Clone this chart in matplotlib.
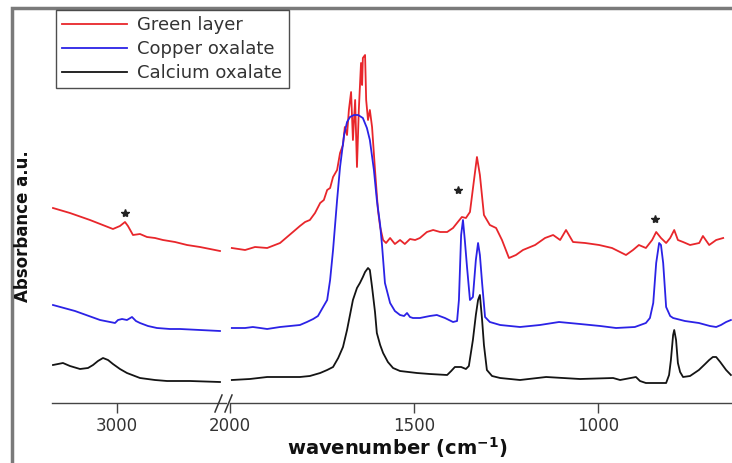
import matplotlib.pyplot as plt
from matplotlib.lines import Line2D
from matplotlib.patches import Rectangle

# wavenumber (cm-1) / absorbance (a.u., offset traces)
green_wn_hi = [3581, 3426, 3243, 3033, 2969, 2923, 2896, 2850, 2786, 2722, 2649, 2576, 2466, 2356, 2238, 2146, 2055]
green_ab_hi = [195, 190, 183, 174, 177, 181, 177, 168, 169, 166, 165, 163, 161, 158, 156, 154, 152]
green_wn_lo = [1995, 1959, 1932, 1899, 1864, 1829, 1810, 1796, 1783, 1769, 1755, 1745, 1736, 1728, 1720, 1709,
               1701, 1693, 1688, 1682, 1677, 1671, 1666, 1660, 1655, 1650, 1644, 1641, 1639, 1633, 1630, 1625,
               1620, 1614, 1606, 1598, 1592, 1584, 1576, 1565, 1552, 1538, 1525, 1511, 1497, 1484, 1465, 1448,
               1429, 1410, 1394, 1381, 1370, 1359, 1348, 1337, 1329, 1321, 1310, 1294, 1277, 1261, 1242, 1223,
               1204, 1171, 1144, 1122, 1103, 1087, 1068, 1035, 997, 962, 924, 905, 889, 870, 853, 842, 829, 815,
               804, 793, 783, 769, 750, 725, 715, 698, 679, 660]
green_ab_lo = [155, 153, 156, 155, 160, 171, 177, 181, 183, 190, 200, 203, 213, 215, 226, 233,
               250, 258, 276, 268, 293, 311, 263, 303, 236, 293, 340, 318, 345, 348, 303, 283,
               293, 276, 233, 193, 176, 163, 160, 165, 159, 163, 159, 164, 163, 165, 171, 173,
               171, 171, 175, 181, 186, 185, 191, 223, 246, 228, 188, 178, 175, 163, 145, 148,
               153, 158, 165, 168, 163, 173, 161, 160, 158, 155, 148, 153, 158, 155, 163, 171, 165, 160,
               165, 173, 163, 161, 158, 160, 167, 158, 163, 165]

copper_wn_hi = [3581, 3380, 3151, 3014, 2987, 2950, 2905, 2859, 2823, 2786, 2713, 2631, 2512, 2420, 2238, 2055]
copper_ab_hi = [98, 92, 83, 80, 83, 84, 83, 86, 82, 80, 77, 75, 74, 74, 73, 72]
copper_wn_lo = [1995, 1959, 1938, 1918, 1899, 1864, 1810, 1791, 1774, 1761, 1747, 1736, 1728, 1720, 1709, 1701,
                1690, 1682, 1674, 1663, 1652, 1639, 1628, 1620, 1609, 1601, 1592, 1587, 1579, 1565, 1552, 1538,
                1527, 1519, 1511, 1503, 1484, 1457, 1438, 1416, 1394, 1383, 1378, 1372, 1367, 1362, 1356, 1348,
                1340, 1332, 1326, 1321, 1315, 1307, 1294, 1266, 1212, 1158, 1106, 1049, 994, 951, 900, 870, 859,
                850, 842, 834, 829, 823, 815, 804, 796, 764, 726, 696, 679, 666, 652, 639]
copper_ab_lo = [75, 75, 76, 75, 74, 76, 78, 81, 84, 87, 96, 103, 123, 153, 203, 236,
                268, 281, 286, 288, 288, 285, 275, 263, 233, 203, 178, 158, 120, 100, 92, 88,
                87, 90, 86, 85, 85, 87, 88, 85, 81, 82, 103, 168, 183, 163, 136, 103,
                106, 143, 160, 148, 120, 86, 81, 78, 76, 78, 81, 79, 77, 75, 76, 80, 85,
                100, 140, 160, 158, 140, 96, 87, 85, 82, 80, 77, 76, 78, 81, 83]

calcium_wn_hi = [3581, 3535, 3490, 3426, 3334, 3261, 3215, 3170, 3124, 3078, 3033, 2969, 2905, 2786, 2649, 2539, 2329, 2055]
calcium_ab_hi = [38, 39, 40, 37, 34, 35, 38, 42, 45, 43, 39, 34, 30, 25, 23, 22, 22, 21]
calcium_wn_lo = [1995, 1946, 1899, 1851, 1810, 1783, 1755, 1736, 1720, 1706, 1693, 1682, 1674, 1666, 1655, 1647,
                 1639, 1633, 1625, 1620, 1614, 1606, 1601, 1592, 1584, 1571, 1557, 1538, 1492, 1457, 1410, 1399,
                 1389, 1372, 1359, 1351, 1340, 1332, 1326, 1321, 1315, 1310, 1302, 1288, 1266, 1212, 1141, 1049,
                 959, 940, 897, 886, 870, 832, 815, 807, 802, 796, 793, 788, 783, 777, 769, 750, 726, 709, 698,
                 688, 679, 668, 652, 639]
calcium_ab_lo = [23, 24, 26, 26, 26, 27, 30, 33, 36, 45, 56, 73, 88, 103, 115, 120,
                 126, 131, 135, 133, 116, 91, 70, 58, 50, 41, 35, 32, 30, 29, 28, 32,
                 36, 36, 34, 37, 63, 88, 103, 108, 83, 58, 33, 27, 25, 23, 26, 24,
                 25, 23, 26, 22, 20, 20, 20, 28, 43, 68, 73, 63, 40, 31, 26, 27, 33, 39, 43,
                 46, 46, 41, 33, 28]

star_wn = [2923, 1381, 845]
star_ab = [190, 213, 184]

labels = ["Green layer", "Copper oxalate", "Calcium oxalate"]
colors = ["#e8262b", "#2b22e6", "#141414"]

fig = plt.figure(figsize=(7.32, 4.63), dpi=100)
W, H = 732.0, 463.0

# grey frame round the picture (cropped on right and bottom)
fig.patches.append(Rectangle((12 / W, -0.05), 1.1, 1.05 - 8 / H, transform=fig.transFigure,
                             fill=False, edgecolor="#7a7a7a", linewidth=2.5))

bottom = 1 - 403 / H
height = 393 / H
ax1 = fig.add_axes([52 / W, bottom, 174 / W, height])
ax2 = fig.add_axes([230 / W, bottom, (W - 230) / W, height])

series_hi = [(green_wn_hi, green_ab_hi), (copper_wn_hi, copper_ab_hi), (calcium_wn_hi, calcium_ab_hi)]
series_lo = [(green_wn_lo, green_ab_lo), (copper_wn_lo, copper_ab_lo), (calcium_wn_lo, calcium_ab_lo)]

handles = []
for (wn, ab), c, lab in zip(series_hi, colors, labels):
    h, = ax1.plot(wn, ab, color=c, lw=1.3, label=lab)
    handles.append(h)
for (wn, ab), c in zip(series_lo, colors):
    ax2.plot(wn, ab, color=c, lw=1.3)

ax1.plot(star_wn[:1], star_ab[:1], ls="none", marker="*", ms=6, color="#222")
ax2.plot(star_wn[1:], star_ab[1:], ls="none", marker="*", ms=6, color="#222")

ax1.set_xlim(3590, 2000)
ax2.set_xlim(2000, 636)
for ax in (ax1, ax2):
    ax.set_ylim(0, 393)
    ax.set_yticks([])
    for s in ("left", "right", "top"):
        ax.spines[s].set_visible(False)
    ax.spines["bottom"].set_color("#444444")
    ax.spines["bottom"].set_linewidth(1.0)
    ax.patch.set_alpha(0)
    ax.tick_params(axis="x", direction="out", length=7, width=1, color="#444444",
                   labelsize=12, labelcolor="#333333", pad=3)
ax1.set_xticks([3000])
ax2.set_xticks([2000, 1500, 1000])

# axis break marks
for x0 in (215, 225):
    fig.add_artist(Line2D([x0 / W, (x0 + 7) / W], [1 - 412 / H, 1 - 395 / H],
                          transform=fig.transFigure, color="#333333", lw=1.1))

fig.text(397 / W, 1 - 448 / H, "wavenumber (cm$^{\\mathbf{-1}}$)", ha="center", va="center",
         fontsize=14, fontweight="bold", color="#111111")
fig.text(23 / W, 1 - 226 / H, "Absorbance a.u.", rotation=90, ha="center", va="center",
         fontsize=12, fontweight="bold", color="#111111")

leg = fig.legend(handles=handles, loc="upper left", bbox_to_anchor=(56 / W, 1 - 10 / H),
                 frameon=True, fancybox=False, fontsize=13, handlelength=3.6,
                 borderpad=0.35, labelspacing=0.32, handletextpad=0.55, borderaxespad=0)
leg.get_frame().set_edgecolor("#222222")
leg.get_frame().set_linewidth(1.0)
for t in leg.get_texts():
    t.set_color("#333333")

fig.savefig("out.png", dpi=100)
